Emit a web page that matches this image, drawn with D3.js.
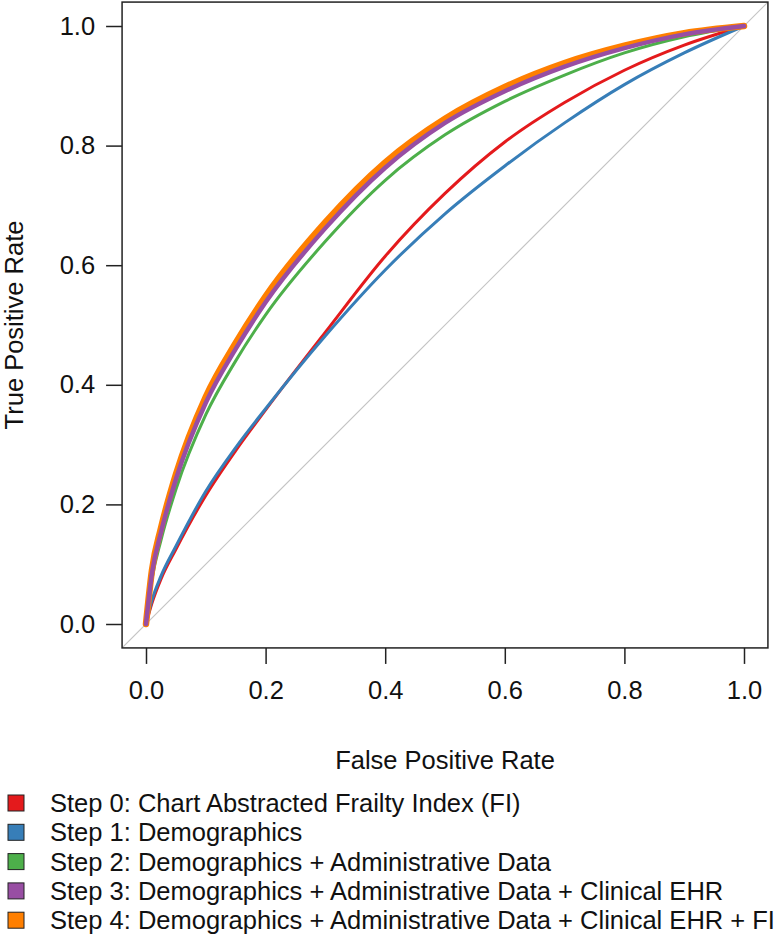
<!DOCTYPE html>
<html>
<head>
<meta charset="utf-8">
<script src="https://cdn.jsdelivr.net/npm/d3@7"></script>
<style>
  body { margin: 0; background: #fff; }
  svg { display: block; font-family: "Liberation Sans", Arial, sans-serif; }
</style>
</head>
<body>
<div class="chart"></div>
<script>
// data (false positive rate -> true positive rate)
var seriesNames = [
  "Step 0: Chart Abstracted Frailty Index (FI)",
  "Step 1: Demographics",
  "Step 2: Demographics + Administrative Data",
  "Step 3: Demographics + Administrative Data + Clinical EHR",
  "Step 4: Demographics + Administrative Data + Clinical EHR + FI"
];
var seriesColors = ["#E41A1C", "#377EB8", "#4DAF4A", "#984EA3", "#FF7F00"];
var seriesWidths = [3, 3, 3, 4.5, 6.5];

var fprStep0 = [0, 0.01, 0.025, 0.05, 0.1, 0.15, 0.2, 0.3, 0.4, 0.5, 0.6, 0.7, 0.8, 0.9, 1];
var tprStep0 = [0, 0.035, 0.075, 0.125, 0.215, 0.29, 0.358, 0.488, 0.615, 0.72, 0.806, 0.872, 0.926, 0.968, 1];

var fprStep1 = [0, 0.01, 0.025, 0.05, 0.1, 0.15, 0.2, 0.3, 0.4, 0.5, 0.6, 0.7, 0.8, 0.9, 1];
var tprStep1 = [0, 0.04, 0.08, 0.13, 0.222, 0.295, 0.36, 0.482, 0.592, 0.686, 0.766, 0.838, 0.902, 0.955, 1];

var fprStep2 = [0, 0.01, 0.025, 0.05, 0.1, 0.15, 0.2, 0.3, 0.4, 0.5, 0.6, 0.7, 0.8, 0.9, 1];
var tprStep2 = [0, 0.075, 0.14, 0.225, 0.35, 0.44, 0.517, 0.64, 0.742, 0.818, 0.874, 0.918, 0.955, 0.982, 1];

var fprStep3 = [0, 0.01, 0.025, 0.05, 0.1, 0.15, 0.2, 0.3, 0.4, 0.5, 0.6, 0.7, 0.8, 0.9, 1];
var tprStep3 = [0, 0.085, 0.153, 0.242, 0.37, 0.46, 0.538, 0.662, 0.763, 0.838, 0.891, 0.932, 0.963, 0.986, 1];

var fprStep4 = [0, 0.01, 0.025, 0.05, 0.1, 0.15, 0.2, 0.3, 0.4, 0.5, 0.6, 0.7, 0.8, 0.9, 1];
var tprStep4 = [0, 0.09, 0.16, 0.25, 0.38, 0.47, 0.548, 0.672, 0.772, 0.845, 0.898, 0.938, 0.967, 0.988, 1];

var xTicks = [0, 0.2, 0.4, 0.6, 0.8, 1.0];
var yTicks = [0, 0.2, 0.4, 0.6, 0.8, 1.0];

var svgWidth = 780, svgHeight = 946;
var fontSize = 25.5;
var svg = d3.select(".chart").append("svg")
  .attr("width", svgWidth)
  .attr("height", svgHeight);

// R style: 4% padding around data range
var xScale = d3.scaleLinear().domain([0, 1]).range([146, 744]);
var yScale = d3.scaleLinear().domain([0, 1]).range([624, 26]);
var x0 = xScale(-0.04), x1 = xScale(1.04);
var y0 = yScale(-0.04), y1 = yScale(1.04);

// diagonal reference line across the whole box
svg.append("line")
  .attr("x1", x0).attr("y1", y0)
  .attr("x2", x1).attr("y2", y1)
  .attr("stroke", "#c4c4c4")
  .attr("stroke-width", 1.2);

var allFpr = [fprStep0, fprStep1, fprStep2, fprStep3, fprStep4];
var allTpr = [tprStep0, tprStep1, tprStep2, tprStep3, tprStep4];

var line = d3.line()
  .x(d => xScale(d[0]))
  .y(d => yScale(d[1]))
  .curve(d3.curveMonotoneX);

// purple sits on top of the wide orange line in the picture
[0, 1, 2, 4, 3].forEach(function(i){
  var pts = allFpr[i].map((f, j) => [f, allTpr[i][j]]);
  svg.append("path")
    .attr("d", line(pts))
    .attr("fill", "none")
    .attr("stroke", seriesColors[i])
    .attr("stroke-width", seriesWidths[i])
    .attr("stroke-linecap", "round")
    .attr("stroke-linejoin", "round");
});

// box
svg.append("rect")
  .attr("x", x0).attr("y", y1)
  .attr("width", x1 - x0).attr("height", y0 - y1)
  .attr("fill", "none")
  .attr("stroke", "#222")
  .attr("stroke-width", 1.5);

// x axis
var xAxis = d3.axisBottom(xScale).tickValues(xTicks).tickSize(16).tickPadding(17)
  .tickFormat(d3.format(".1f"));
var gx = svg.append("g").attr("transform", `translate(0,${y0})`).call(xAxis);
gx.select(".domain").remove();
gx.selectAll("line").attr("stroke", "#222").attr("stroke-width", 1.5);
gx.selectAll("text").attr("font-size", fontSize).attr("fill", "#111")
  .attr("font-family", "Liberation Sans, Arial, sans-serif");

// y axis
var yAxis = d3.axisLeft(yScale).tickValues(yTicks).tickSize(16).tickPadding(11)
  .tickFormat(d3.format(".1f"));
var gy = svg.append("g").attr("transform", `translate(${x0},0)`).call(yAxis);
gy.select(".domain").remove();
gy.selectAll("line").attr("stroke", "#222").attr("stroke-width", 1.5);
gy.selectAll("text").attr("font-size", fontSize).attr("fill", "#111")
  .attr("font-family", "Liberation Sans, Arial, sans-serif");

// axis titles
svg.append("text")
  .attr("x", (x0 + x1) / 2).attr("y", 769)
  .attr("text-anchor", "middle")
  .attr("font-size", fontSize).attr("fill", "#111")
  .text("False Positive Rate");
svg.append("text")
  .attr("transform", `translate(23,${(y0 + y1) / 2}) rotate(-90)`)
  .attr("text-anchor", "middle")
  .attr("font-size", fontSize).attr("fill", "#111")
  .text("True Positive Rate");

// legend
var legend = svg.append("g");
seriesNames.forEach(function(name, i){
  var cy = 803 + i * 29.3;
  legend.append("rect")
    .attr("x", 8).attr("y", cy - 8)
    .attr("width", 16).attr("height", 16)
    .attr("fill", seriesColors[i])
    .attr("stroke", "#222").attr("stroke-width", 1);
  legend.append("text")
    .attr("x", 50).attr("y", cy + 9)
    .attr("font-size", fontSize).attr("fill", "#111")
    .text(name);
});
</script>
</body>
</html>
